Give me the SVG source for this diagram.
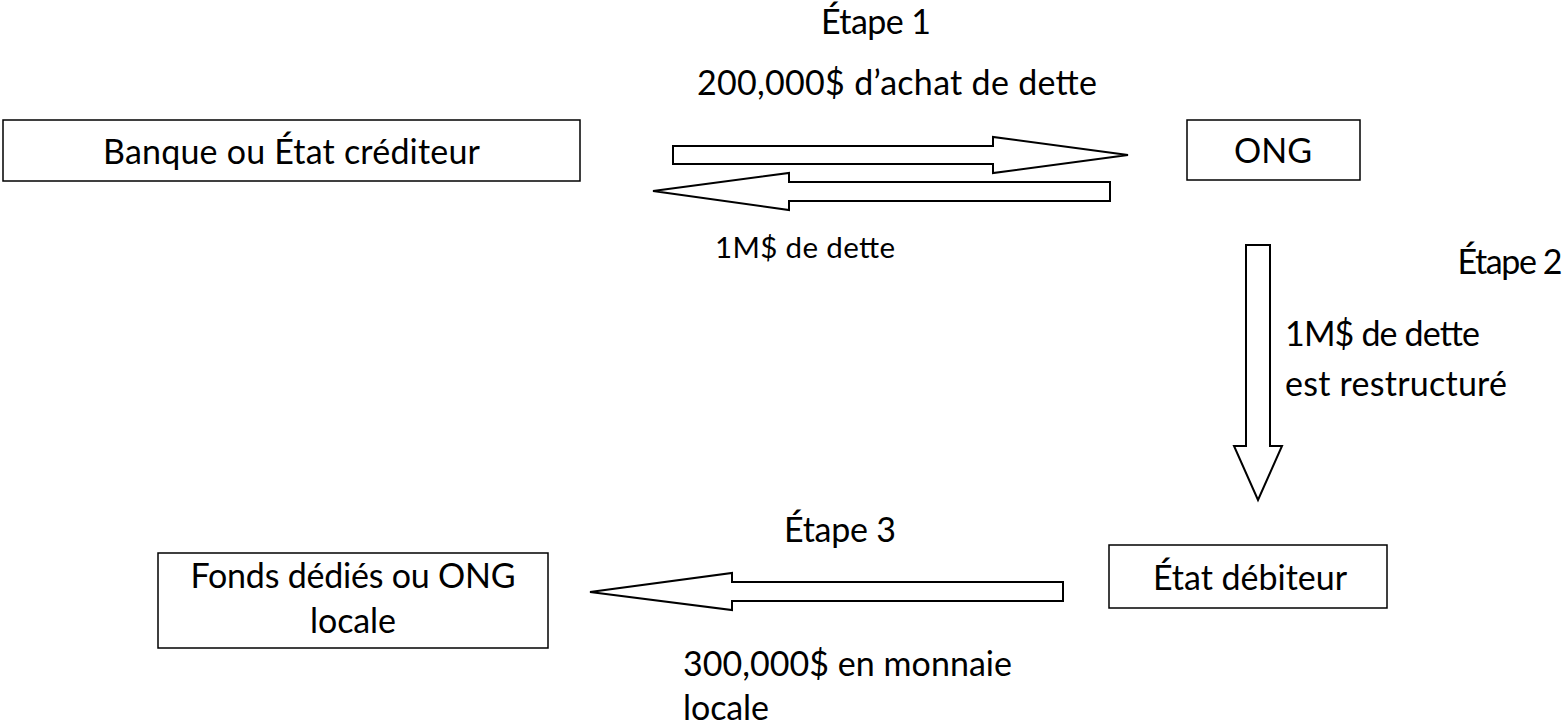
<svg xmlns="http://www.w3.org/2000/svg" width="1566" height="727" viewBox="0 0 1566 727">
<style>
.box{fill:#fff;stroke:#000;stroke-width:1.5}
.arr{fill:#fff;stroke:#000;stroke-width:2;stroke-linejoin:miter}
text{font-family:Lato,"Open Sans","Liberation Sans",sans-serif;font-size:34px;fill:#000}
.c{text-anchor:middle}
.s{font-size:29.5px}
</style>
<rect width="1566" height="727" fill="#fff"/>
<g id="connectors">
<polygon class="arr" points="673,146 993,146 993,137 1128,155 993,173 993,164 673,164"/>
<polygon class="arr" points="1110,182 789,182 789,173 653,191 789,210 789,201 1110,201"/>
<polygon class="arr" points="1246,245 1270,245 1270,446 1282,446 1258,500 1234,446 1246,446"/>
<polygon class="arr" points="1063,582 732,582 732,573 590,592 732,610 732,601 1063,601"/>
</g>
<g id="labels">
<text class="c" x="876" y="34" textLength="110">Étape 1</text>
<text class="c" x="897" y="95" textLength="400">200,000$ d’achat de dette</text>
<text class="c s" x="805" y="258" textLength="180">1M$ de dette</text>
<text class="c" x="1510" y="274" textLength="105">Étape 2</text>
<text x="1285" y="346" textLength="195">1M$ de dette</text>
<text x="1285" y="396" textLength="222">est restructuré</text>
<text class="c" x="840" y="542" textLength="112">Étape 3</text>
<text x="683" y="676" textLength="329">300,000$ en monnaie</text>
<text x="683" y="720" textLength="86">locale</text>
</g>
<g id="banque">
<rect class="box" x="3" y="120" width="577" height="61"/>
<text class="c" x="291.5" y="164" textLength="377">Banque ou État créditeur</text>
</g>
<g id="ong">
<rect class="box" x="1187" y="120" width="173" height="60"/>
<text class="c" x="1273" y="163">ONG</text>
</g>
<g id="etat-debiteur">
<rect class="box" x="1109" y="545" width="278" height="63"/>
<text class="c" x="1250" y="590">État débiteur</text>
</g>
<g id="fonds">
<rect class="box" x="158" y="553" width="390" height="95"/>
<text class="c" x="353" y="588" textLength="325">Fonds dédiés ou ONG</text>
<text class="c" x="353" y="633" textLength="86">locale</text>
</g>
</svg>
